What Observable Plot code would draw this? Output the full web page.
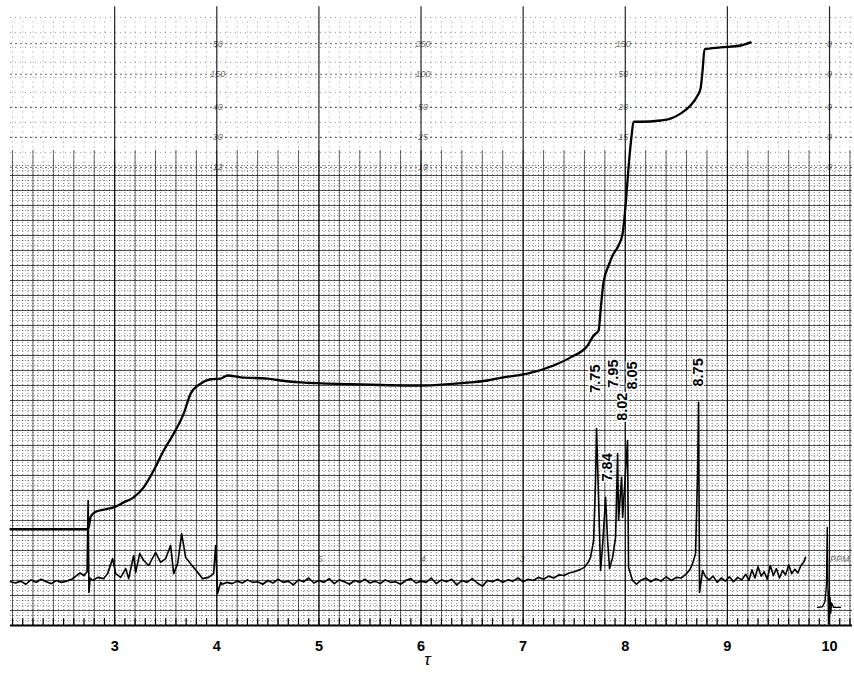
<!DOCTYPE html>
<html><head><meta charset="utf-8">
<script src="https://cdn.jsdelivr.net/npm/d3@7"></script>
<script src="https://cdn.jsdelivr.net/npm/@observablehq/plot@0.6"></script>
<style>body{margin:0;background:#fff}#chart{width:854px;height:673px}</style>
</head><body><div id="chart"></div>
<script>
// x: chemical shift tau; y: recorder deflection (arbitrary units, 0 = chart baseline)
const tauTicks = [3, 4, 5, 6, 7, 8, 9, 10];

const specLeft = [[1.98,7.0],[2.03,6.8],[2.08,7.1],[2.13,6.6],[2.18,7.3],[2.23,6.9],[2.28,7.4],[2.33,7.0],[2.38,6.7],[2.43,7.2],[2.48,6.9],[2.53,7.1],[2.58,7.4],[2.62,7.9],[2.66,8.4],[2.70,8.0],[2.73,8.6],[2.74,20.0],[2.748,5.3],[2.76,7.6]];

const specMultiplet = [[2.785,7.2],[2.834,7.7],[2.892,7.5],[2.931,8.3],[2.98,10.7],[3.01,8.3],[3.059,7.7],[3.108,9.1],[3.137,7.5],[3.186,11.2],[3.206,8.5],[3.245,11.5],[3.284,10.4],[3.333,9.6],[3.401,11.7],[3.45,10.1],[3.499,10.7],[3.548,12.8],[3.578,8.3],[3.617,9.9],[3.656,14.7],[3.695,10.9],[3.744,9.9],[3.813,8.5],[3.862,7.5],[3.92,7.7],[3.969,8.3],[3.989,12.8],[4.008,5.1],[4.038,6.9]];

const specMiddle = [[4.05,6.6],[4.10,6.9],[4.15,6.7],[4.20,7.1],[4.25,6.8],[4.30,7.3],[4.35,6.9],[4.40,7.0],[4.45,6.6],[4.50,7.2],[4.55,6.8],[4.60,7.4],[4.65,6.9],[4.70,7.1],[4.75,6.5],[4.80,7.3],[4.85,7.0],[4.90,7.6],[4.95,6.8],[5.00,7.2],[5.05,6.9],[5.10,7.5],[5.15,6.7],[5.20,7.3],[5.25,7.0],[5.30,6.6],[5.35,7.2],[5.40,6.9],[5.45,7.4],[5.50,6.8],[5.55,7.1],[5.60,6.7],[5.65,7.3],[5.70,6.9],[5.75,7.0],[5.80,6.6],[5.85,7.2],[5.90,7.5],[5.95,6.8],[6.00,7.1],[6.05,6.9],[6.10,7.6],[6.15,6.7],[6.20,7.3],[6.25,7.0],[6.30,7.4],[6.35,6.5],[6.40,7.2],[6.45,6.9],[6.50,7.5],[6.55,6.8],[6.60,6.3],[6.65,7.2],[6.70,7.0],[6.75,7.4],[6.80,6.9],[6.85,7.3],[6.90,7.1],[6.95,7.6],[7.00,7.0],[7.05,7.4],[7.10,7.2],[7.15,7.7],[7.20,7.4],[7.25,7.9],[7.30,7.6],[7.35,8.1],[7.40,8.0],[7.45,8.4],[7.50,8.6],[7.55,8.9],[7.60,9.3],[7.64,10.2]];

const specAromatic = [[7.66,10.9],[7.69,13.6],[7.709,23.2],[7.719,31.5],[7.739,20.0],[7.758,8.8],[7.778,12.8],[7.807,20.5],[7.827,13.6],[7.846,9.1],[7.876,10.9],[7.905,14.1],[7.925,27.5],[7.934,16.8],[7.964,23.7],[7.974,17.3],[8.022,29.6],[8.032,9.3],[8.071,7.2],[8.11,6.6]];

const specRight = [[8.15,7.2],[8.20,7.6],[8.25,7.0],[8.30,7.5],[8.35,7.1],[8.40,7.8],[8.45,7.2],[8.50,7.7],[8.55,7.6],[8.60,8.3],[8.635,9.0],[8.659,9.9],[8.688,11.5],[8.708,24.3],[8.718,35.7],[8.727,5.3],[8.757,8.8],[8.786,7.8],[8.82,7.3],[8.86,7.9],[8.90,6.9],[8.94,7.6],[8.98,7.1],[9.02,7.8],[9.06,7.0],[9.10,7.7],[9.14,7.3],[9.18,8.2],[9.21,7.2],[9.24,8.9],[9.27,7.6],[9.30,9.4],[9.33,7.9],[9.36,8.6],[9.39,7.4],[9.42,9.6],[9.45,8.0],[9.48,9.1],[9.51,7.6],[9.54,8.8],[9.57,8.1],[9.60,9.7],[9.63,8.3],[9.66,9.0],[9.69,8.4],[9.72,9.6],[9.75,10.2],[9.765,10.9]];

const specTMS = [[9.883,2.9],[9.93,3.0],[9.955,3.8],[9.97,6.5],[9.978,15.7],[9.985,6.0],[9.99,0.3],[9.995,5.5],[10.0,1.2],[10.005,4.5],[10.012,2.0],[10.02,3.6],[10.04,2.9],[10.108,2.9]];

const integralTrace = [[1.98,15.4],[2.47,15.4],[2.726,15.4],[2.745,15.7],[2.765,17.4],[2.814,18.2],[2.912,18.6],[2.99,18.9],[3.088,19.7],[3.186,20.5],[3.284,22.1],[3.382,24.8],[3.48,28.0],[3.578,30.7],[3.676,33.9],[3.744,37.1],[3.842,38.7],[3.94,39.4],[4.038,39.5],[4.106,40.0],[4.234,39.7],[4.498,39.5],[4.625,39.2],[4.821,38.9],[5.311,38.6],[5.996,38.4],[6.485,38.9],[6.652,39.2],[6.808,39.7],[7.043,40.3],[7.298,41.6],[7.464,42.9],[7.631,44.8],[7.69,46.4],[7.739,47.2],[7.758,50.4],[7.787,54.9],[7.837,57.6],[7.876,59.2],[7.934,60.8],[7.974,62.7],[8.003,67.2],[8.032,73.3],[8.062,78.4],[8.081,80.6],[8.15,80.6],[8.346,80.8],[8.443,81.1],[8.541,81.9],[8.639,83.2],[8.708,84.8],[8.737,85.9],[8.757,88.8],[8.776,92.2],[8.933,92.5],[9.129,92.8],[9.227,93.3]];

const peakLabels = [
  {tau: 7.709, v: 39.5, label: "7.75"},
  {tau: 7.827, v: 25.3, label: "7.84"},
  {tau: 7.886, v: 40.3, label: "7.95"},
  {tau: 7.974, v: 35.0, label: "8.02"},
  {tau: 8.071, v: 40.0, label: "8.05"},
  {tau: 8.718, v: 40.5, label: "8.75"}
];

const paperLabels = [
  {tau: 5.01, v: 10.7, label: "5"}, {tau: 6.02, v: 10.7, label: "4"}, {tau: 6.99, v: 10.7, label: "3"},
  {tau: 4.01, v: 93.1, label: "50"}, {tau: 4.01, v: 88.2, label: "150"}, {tau: 4.01, v: 82.9, label: "40"}, {tau: 4.01, v: 78.1, label: "30"}, {tau: 4.01, v: 73.3, label: "12"},
  {tau: 6.02, v: 93.1, label: "250"}, {tau: 6.02, v: 88.2, label: "100"}, {tau: 6.02, v: 82.9, label: "50"}, {tau: 6.02, v: 78.1, label: "25"}, {tau: 6.02, v: 73.3, label: "10"},
  {tau: 7.98, v: 93.1, label: "150"}, {tau: 7.98, v: 88.2, label: "50"}, {tau: 7.98, v: 82.9, label: "20"}, {tau: 7.98, v: 78.1, label: "15"},
  {tau: 10.0, v: 93.1, label: "0"}, {tau: 10.0, v: 88.2, label: "0"}, {tau: 10.0, v: 82.9, label: "0"}, {tau: 10.0, v: 78.1, label: "0"}, {tau: 10.0, v: 73.3, label: "0"},
  {tau: 10.1, v: 10.7, label: "PPM"}
];

// chart-paper grid positions
const gridFineV = d3.range(2.0, 10.23, 0.05);
const gridUpperV = d3.range(2.0, 10.23, 0.1);
const gridMinorV = d3.range(2.0, 10.23, 0.2);
const gridFineH = d3.range(0.8, 74, 0.8);
const gridMajorH = d3.range(2.4, 74, 2.4);
const gridUpperFineH = d3.range(75.7, 98, 2.4);
const gridUpperH = [73.3, 78.1, 82.9, 88.2, 93.1];
const axisMinor = d3.range(2.0, 10.23, 0.1);

const mainSpectrum = [...specLeft, ...specMultiplet, ...specMiddle, ...specAromatic, ...specRight];

const chart = Plot.plot({
  width: 854, height: 673,
  marginLeft: 10, marginRight: 2, marginTop: 0, marginBottom: 48,
  x: {domain: [1.98, 10.225]},
  y: {domain: [0, 100], axis: null},
  style: {background: "#fff", fontFamily: "'Liberation Sans', Arial, sans-serif", color: "#000"},
  marks: [
    Plot.ruleX(gridFineV, {y1: 0, y2: 74, stroke: "#000", strokeOpacity: 0.5, strokeDasharray: "1,2"}),
    Plot.ruleX(gridUpperV, {y1: 74, y2: 97, stroke: "#000", strokeOpacity: 0.4, strokeDasharray: "1,4"}),
    Plot.ruleY(gridFineH, {stroke: "#000", strokeOpacity: 0.42, strokeDasharray: "1,2"}),
    Plot.ruleY(gridUpperFineH, {stroke: "#000", strokeOpacity: 0.4, strokeDasharray: "1,4"}),
    Plot.ruleY(gridMajorH, {stroke: "#000", strokeOpacity: 0.65, strokeWidth: 1.1}),
    Plot.ruleY(gridUpperH, {stroke: "#000", strokeOpacity: 0.6, strokeDasharray: "2,3"}),
    Plot.ruleX(gridMinorV, {y1: 0, y2: 76, stroke: "#000", strokeOpacity: 0.6}),
    Plot.ruleX(tauTicks, {y1: 0, y2: 99, stroke: "#000", strokeOpacity: 0.85, strokeWidth: 1.2}),
    Plot.text(paperLabels, {x: "tau", y: "v", text: "label", fontSize: 9, fill: "#000", fillOpacity: 0.6, fontStyle: "italic"}),
    Plot.ruleX(axisMinor, {y1: 0, y2: 1.1, stroke: "#000", strokeWidth: 1.2}),
    Plot.ruleY([0], {stroke: "#000", strokeWidth: 1.8}),
    Plot.line(integralTrace, {x: d => d[0], y: d => d[1], stroke: "#000", strokeWidth: 2.3, curve: "monotone-x"}),
    Plot.line(mainSpectrum, {x: d => d[0], y: d => d[1], stroke: "#000", strokeWidth: 1.6}),
    Plot.line(specTMS, {x: d => d[0], y: d => d[1], stroke: "#000", strokeWidth: 1.4}),
    Plot.text(peakLabels, {x: "tau", y: "v", text: "label", rotate: -90, fontSize: 14.5, fontWeight: "bold", fill: "#000", stroke: "#fff", strokeWidth: 3, paintOrder: "stroke"}),
    Plot.axisX({ticks: tauTicks, tickSize: 0, tickPadding: 15, fontSize: 14.5, fontWeight: "bold", label: null}),
    Plot.text(["τ"], {frameAnchor: "bottom", dy: 39, dx: -4, fontSize: 17, fontStyle: "italic", fill: "#000"})
  ]
});
document.getElementById("chart").appendChild(chart);
</script></body></html>
